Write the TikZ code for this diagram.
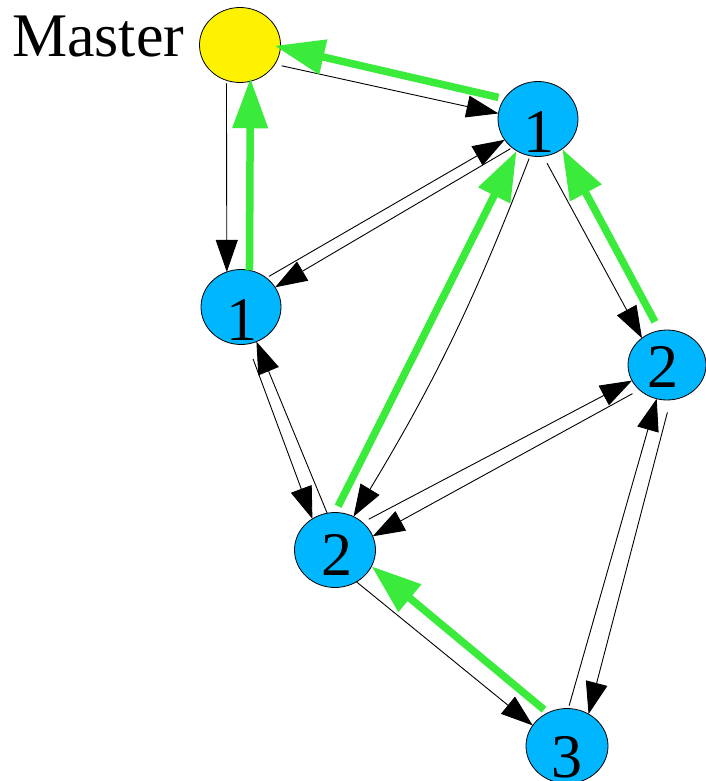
\documentclass[tikz,border=0pt]{standalone}
\usepackage{fontspec}
\setmainfont{Liberation Serif}
\usetikzlibrary{arrows.meta,shapes.geometric}
\definecolor{nodeblue}{RGB}{0,182,255}
\definecolor{pathgreen}{RGB}{59,235,59}
\begin{document}
\begin{tikzpicture}[x=1pt,y=-1pt,
  station/.style={ellipse,draw=black,line width=0.8pt,fill=nodeblue,inner sep=0pt,outer sep=0pt,minimum width=80pt,minimum height=75pt},
  masternode/.style={station,fill=yellow,minimum width=81pt},
  digit/.style={inner sep=0pt,font=\fontsize{62}{62}\selectfont},
  msg/.style={draw=black,line width=0.9pt,-{Triangle[length=32pt,width=22pt]}},
  route/.style={draw=pathgreen,line width=7.5pt,-{Triangle[length=50pt,width=34pt]}},
]
\useasboundingbox (0,0) rectangle (705,781);

% nodes
\node[masternode] (M) at (240,45) {};
\node[station] (T) at (538,119) {};
\node[station] (L) at (241,307) {};
\node[station,minimum width=78pt,minimum height=70pt] (R) at (667,365) {};
\node[station,minimum width=81pt] (C) at (335,550) {};
\node[station,minimum width=82pt] (B) at (567,746) {};

% labels
\node[anchor=base west,inner sep=0pt,font=\fontsize{62}{62}\selectfont] (lbl) at (12,57) {Master};
\node[digit] (tT) at (539,132) {1};
\node[digit] (tL) at (242,320) {1};
\node[digit] (tR) at (663,367) {2};
\node[digit] (tC) at (337,555) {2};
\node[digit] (tB) at (567,757) {3};

% Master -- T
\draw[msg,shorten <=7pt] (M.-29.3) -- (T.172.9);
\draw[route,shorten <=6pt,shorten >=-6pt] (T.149.5) -- (M.-3.5);
% Master -- L
\draw[msg,shorten <=3pt] (M.-111.5) -- (L.112.3);
\draw[route,shorten >=-3pt] (L.77.1) -- (M.-74.7);
% T -- L
\draw[msg,shorten <=3pt] (L.49.8) -- (T.-148.6);
\draw[msg,shorten <=2pt] (T.-132) -- (L.30.3);
% T -- C
\draw[route,shorten <=7pt] (C.90) -- (T.-124.8);
\draw[msg,shorten <=3pt] (T.-102.7) to[bend left=5] (C.61.6);
% T -- R
\draw[msg,shorten <=8pt] (T.-82.4) -- (R.133.2);
\draw[route,shorten <=10pt] (R.102.5) -- (T.-51.3);
% L -- C
\draw[msg,shorten <=16pt] (L.-80.5) -- (C.126.5);
\draw[msg] (C.102.2) -- (L.-66.8);
% C -- R
\draw[msg,shorten <=7pt] (C.45.9) -- (R.-156.8);
\draw[msg,shorten <=8pt] (R.-138.6) -- (C.20.2);
% R -- B
\draw[msg,shorten <=3pt] (B.88.6) -- (R.-107.5);
\draw[msg,shorten <=13pt] (R.-84) -- (B.56.8);
% C -- B
\draw[msg] (C.-56.3) -- (B.149.5);
\draw[route,shorten <=5pt] (B.120.7) -- (C.-24.1);
\end{tikzpicture}
\end{document}
